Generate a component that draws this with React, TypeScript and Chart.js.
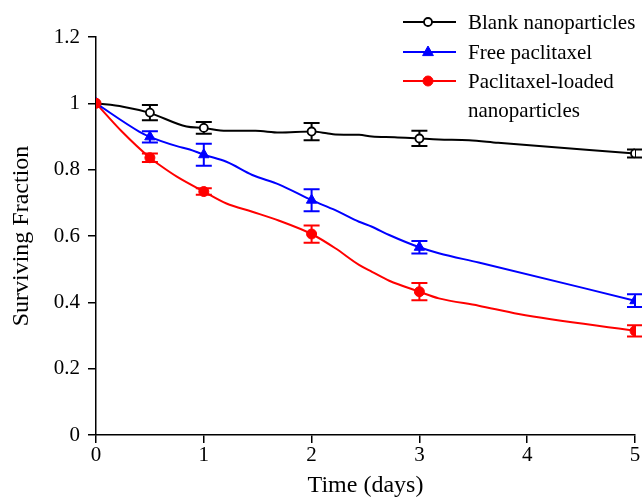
import React, { useEffect, useRef } from "react";
import { Chart, registerables } from "chart.js";

Chart.register(...registerables);

// Marker (measured) time points
const markerTimes = [0, 0.5, 1, 2, 3, 5];
const blankMean = [1.0, 0.972, 0.926, 0.915, 0.894, 0.849];
const blankErr = [0, 0.023, 0.018, 0.026, 0.023, 0.012];
const freeMean = [1.0, 0.899, 0.845, 0.708, 0.566, 0.405];
const freeErr = [0, 0.017, 0.033, 0.033, 0.019, 0.019];
const loadedMean = [1.0, 0.836, 0.734, 0.606, 0.432, 0.314];
const loadedErr = [0, 0.013, 0.01, 0.026, 0.026, 0.017];

// Curve traces
const blankCurveX = [0, 0.25, 0.49, 0.84, 0.99, 1.21, 1.48, 1.7, 2.0, 2.14, 2.22, 2.44, 2.56, 2.77, 3.0, 3.18, 3.46, 3.73, 5];
const blankCurveY = [1.0, 0.99, 0.972, 0.93, 0.926, 0.917, 0.917, 0.912, 0.915, 0.91, 0.906, 0.905, 0.9, 0.898, 0.894, 0.891, 0.889, 0.881, 0.849];
const freeCurveX = [0, 0.4, 0.5, 0.75, 0.87, 1.0, 1.21, 1.45, 1.7, 2.0, 2.22, 2.44, 2.56, 2.72, 3.0, 3.18, 3.55, 5];
const freeCurveY = [1.0, 0.915, 0.899, 0.871, 0.861, 0.845, 0.824, 0.784, 0.755, 0.708, 0.678, 0.643, 0.628, 0.603, 0.566, 0.548, 0.52, 0.405];
const loadedCurveX = [0, 0.24, 0.5, 0.59, 0.75, 1.0, 1.21, 1.45, 1.7, 2.0, 2.22, 2.44, 2.56, 2.72, 3.0, 3.18, 3.55, 3.92, 5];
const loadedCurveY = [1.0, 0.915, 0.836, 0.814, 0.779, 0.734, 0.698, 0.673, 0.646, 0.606, 0.563, 0.513, 0.492, 0.465, 0.432, 0.412, 0.39, 0.365, 0.314];

const xTicks = [0, 1, 2, 3, 4, 5];
const yTicks = [0, 0.2, 0.4, 0.6, 0.8, 1.0, 1.2];

const seriesNames = ["Blank nanoparticles", "Free paclitaxel", "Paclitaxel-loaded nanoparticles"];
const legendLines = [["Blank nanoparticles"], ["Free paclitaxel"], ["Paclitaxel-loaded", "nanoparticles"]];

const FONT = "'Liberation Serif', 'DejaVu Serif', serif";

const zip = (xs: number[], ys: number[]) => xs.map((x, i) => ({ x, y: ys[i] }));

const series = [
  { name: seriesNames[0], color: "#000000", mean: blankMean, err: blankErr, cx: blankCurveX, cy: blankCurveY, style: "circle", radius: 4, fill: "#ffffff", bw: 1.8 },
  { name: seriesNames[1], color: "#0000ff", mean: freeMean, err: freeErr, cx: freeCurveX, cy: freeCurveY, style: "triangle", radius: 6, fill: "#0000ff", bw: 1 },
  { name: seriesNames[2], color: "#ff0000", mean: loadedMean, err: loadedErr, cx: loadedCurveX, cy: loadedCurveY, style: "circle", radius: 5, fill: "#ff0000", bw: 1 },
];

const errorBarPlugin = {
  id: "errorBars",
  beforeDatasetsDraw(chart: any) {
    const ctx = chart.ctx;
    const xs = chart.scales.x;
    const ys = chart.scales.y;
    ctx.save();
    series.forEach((s) => {
      ctx.strokeStyle = s.color;
      ctx.lineWidth = 2;
      markerTimes.forEach((t, i) => {
        const e = s.err[i];
        if (!e) return;
        const px = xs.getPixelForValue(t);
        const top = ys.getPixelForValue(s.mean[i] + e);
        const bot = ys.getPixelForValue(s.mean[i] - e);
        ctx.beginPath();
        ctx.moveTo(px, top);
        ctx.lineTo(px, bot);
        ctx.moveTo(px - 8, top);
        ctx.lineTo(px + 8, top);
        ctx.moveTo(px - 8, bot);
        ctx.lineTo(px + 8, bot);
        ctx.stroke();
      });
    });
    ctx.restore();
  },
};

const legendPlugin = {
  id: "customLegend",
  afterDraw(chart: any) {
    const ctx = chart.ctx;
    ctx.save();
    const rows = [22, 52, 81];
    series.forEach((s, i) => {
      const y = rows[i];
      ctx.strokeStyle = s.color;
      ctx.lineWidth = 2;
      ctx.beginPath();
      ctx.moveTo(403, y);
      ctx.lineTo(456, y);
      ctx.stroke();
      const mx = 428;
      ctx.fillStyle = s.fill;
      ctx.strokeStyle = s.color;
      ctx.lineWidth = s.bw;
      ctx.beginPath();
      if (s.style === "triangle") {
        const r = s.radius;
        ctx.moveTo(mx, y - r);
        ctx.lineTo(mx + r * 0.9, y + r * 0.6);
        ctx.lineTo(mx - r * 0.9, y + r * 0.6);
        ctx.closePath();
      } else {
        ctx.arc(mx, y, s.radius, 0, Math.PI * 2);
      }
      ctx.fill();
      ctx.stroke();
      ctx.fillStyle = "#000";
      ctx.font = `21px ${FONT}`;
      ctx.textBaseline = "middle";
      ctx.textAlign = "left";
      legendLines[i].forEach((line, j) => {
        ctx.fillText(line, 468, y + 1 + j * 29);
      });
    });
    ctx.restore();
  },
};

export default function App() {
  const ref = useRef<HTMLCanvasElement | null>(null);
  useEffect(() => {
    if (!ref.current) return;
    const datasets: any[] = [];
    series.forEach((s) => {
      datasets.push({
        label: s.name + " curve",
        data: zip(s.cx, s.cy),
        showLine: true,
        borderColor: s.color,
        borderWidth: 2,
        pointRadius: 0,
        cubicInterpolationMode: "monotone",
        order: 10,
      });
    });
    series.forEach((s, idx) => {
      datasets.push({
        label: s.name,
        data: zip(markerTimes, s.mean),
        showLine: false,
        pointStyle: s.style,
        pointRadius: s.radius,
        pointBackgroundColor: s.fill,
        pointBorderColor: s.color,
        pointBorderWidth: s.bw,
        order: 3 - idx,
      });
    });
    const chart = new Chart(ref.current, {
      type: "scatter",
      data: { datasets },
      plugins: [errorBarPlugin, legendPlugin],
      options: {
        responsive: false,
        animation: false,
        layout: { padding: { top: 37, right: 4, left: 0, bottom: -3 } },
        plugins: { legend: { display: false }, tooltip: { enabled: false } },
        scales: {
          x: {
            type: "linear",
            min: 0,
            max: 5,
            afterBuildTicks: (scale: any) => {
              scale.ticks = xTicks.map((v) => ({ value: v }));
            },
            afterFit: (scale: any) => {
              scale.height = 65;
              scale.paddingLeft = 0;
              scale.paddingRight = 0;
            },
            grid: { display: true, drawOnChartArea: false, drawTicks: true, tickLength: 8, color: "#000", lineWidth: 1.5 },
            border: { display: true, color: "#000", width: 1.5 },
            ticks: { color: "#000", font: { family: FONT, size: 21 }, padding: 0, maxRotation: 0, callback: (v: any) => String(v) },
            title: { display: true, text: "Time (days)", color: "#000", font: { family: FONT, size: 24 }, padding: { top: 0, bottom: 0 } },
          },
          y: {
            type: "linear",
            min: 0,
            max: 1.2,
            afterBuildTicks: (scale: any) => {
              scale.ticks = yTicks.map((v) => ({ value: v }));
            },
            afterFit: (scale: any) => {
              scale.width = 96;
            },
            grid: { display: true, drawOnChartArea: false, drawTicks: true, tickLength: 8, color: "#000", lineWidth: 1.5 },
            border: { display: true, color: "#000", width: 1.5 },
            ticks: { color: "#000", font: { family: FONT, size: 21 }, padding: 8, callback: (v: any) => String(Number(Number(v).toFixed(1))) },
            title: { display: true, text: "Surviving Fraction", color: "#000", font: { family: FONT, size: 24 }, padding: { top: 7, bottom: 0 } },
          },
        },
      },
    });
    return () => chart.destroy();
  }, []);
  return (
    <div style={{ position: "absolute", left: 0, top: 0, width: 642, height: 497, background: "#fff" }}>
      <canvas ref={ref} width={642} height={497} style={{ display: "block" }} />
    </div>
  );
}
